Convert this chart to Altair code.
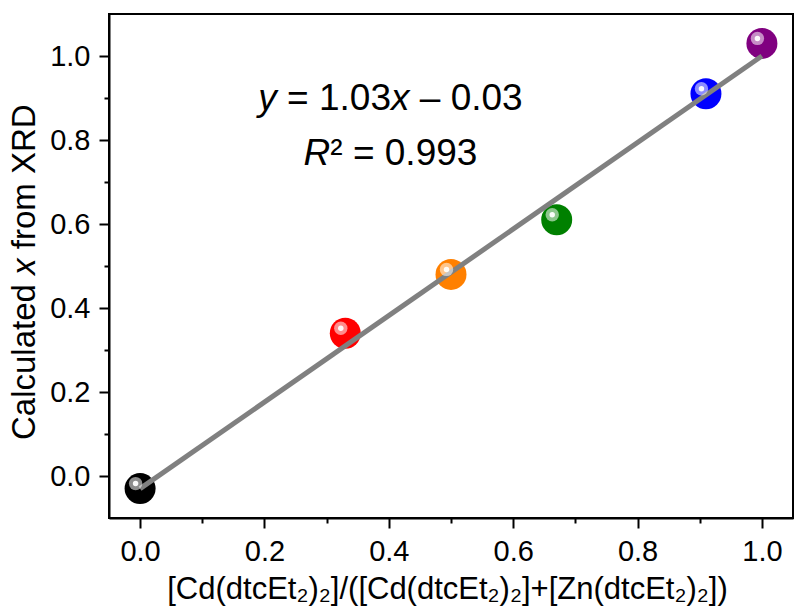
import altair as alt
import pandas as pd

# ---- data ----
samples = ["S1", "S2", "S3", "S4", "S5", "S6"]
ratio = [0.0, 0.33, 0.50, 0.67, 0.91, 1.00]          # [Cd]/([Cd]+[Zn])
calc_x = [-0.03, 0.34, 0.48, 0.61, 0.91, 1.03]       # calculated x from XRD
point_colors = ["#000000", "#ff0000", "#ff8000", "#008000", "#0000ff", "#800080"]

slope = 1.03
intercept = -0.03
r_squared = 0.993
fit_x = [0.0, 1.0]

tick_values = [0.0, 0.1, 0.2, 0.3, 0.4, 0.5, 0.6, 0.7, 0.8, 0.9, 1.0]
x_domain = [-0.05, 1.05]
y_domain = [-0.1, 1.1]

x_title = "[Cd(dtcEt\u2082)\u2082]/([Cd(dtcEt\u2082)\u2082]+[Zn(dtcEt\u2082)\u2082])"

FONT = "Liberation Sans"
W, H = 684, 504

pts = pd.DataFrame({"sample": samples, "ratio": ratio, "calc": calc_x})
fit = pd.DataFrame({"ratio": fit_x, "calc": [slope * v + intercept for v in fit_x]})

major_test = "round(datum.value*10) % 2 == 0"
label_expr = f"{major_test} ? format(datum.value, '.1f') : ''"


def make_axis(pad):
    return alt.Axis(
        values=tick_values,
        labelExpr=label_expr,
        tickSize={"condition": {"test": major_test, "value": 10}, "value": 5},
        labelPadding=pad,
        title=None,
        grid=False,
    )


xenc = alt.X("ratio:Q", scale=alt.Scale(domain=x_domain, nice=False, zero=False), axis=make_axis(9))
yenc = alt.Y("calc:Q", scale=alt.Scale(domain=y_domain, nice=False, zero=False), axis=make_axis(9))

base = alt.Chart(pts)

balls = base.mark_point(filled=True, shape="circle", size=960, opacity=1).encode(
    x=xenc, y=yenc,
    color=alt.Color("sample:N", scale=alt.Scale(domain=samples, range=point_colors), legend=None),
)

line = alt.Chart(fit).mark_line(color="#808080", strokeWidth=5).encode(x="ratio:Q", y="calc:Q")

ring = base.mark_point(filled=True, shape="circle", size=180, color="white", opacity=0.55,
                       xOffset=-4.5, yOffset=-5).encode(x="ratio:Q", y="calc:Q")
core = base.mark_point(filled=True, shape="circle", size=30, color="white", opacity=0.95,
                       xOffset=-4.5, yOffset=-5).encode(x="ratio:Q", y="calc:Q")


def label(txt, x, y, size, style="normal", angle=0, align="left"):
    return alt.Chart(pd.DataFrame({"t": [txt]})).mark_text(
        align=align, baseline="alphabetic", fontSize=size, fontStyle=style,
        font=FONT, angle=angle, color="black"
    ).encode(x=alt.value(x), y=alt.value(y), text="t:N")


eq_size = 37
texts = [
    # equation line  (absolute x minus 109, absolute y minus 14)
    label("y", 258.3 - 109, 110 - 14, eq_size, "italic"),
    label(f"= {slope:.2f}", 287.1 - 109, 110 - 14, eq_size),
    label("x", 391.0 - 109, 110 - 14, eq_size, "italic"),
    label(f"\u2013 {abs(intercept):.2f}", 419.8 - 109, 110 - 14, eq_size),
    # R^2 line
    label("R", 303.6 - 109, 165 - 14, eq_size, "italic"),
    label(f"\u00b2 = {r_squared:.3f}", 330.3 - 109, 165 - 14, eq_size),
    # y-axis title pieces (rotated)
    label("Calculated", 35 - 109, 440 - 14, 33, angle=270),
    label("x", 35 - 109, 274.9 - 14, 33, "italic", angle=270),
    label("from XRD", 35 - 109, 249.2 - 14, 33, angle=270),
    # x-axis title
    label(x_title, 338.5, 599 - 14, 31, align="center"),
]

chart = alt.layer(balls, line, ring, core, *texts).properties(
    width=W, height=H,
    autosize=alt.AutoSizeParams(type="none"),
    padding={"left": 109, "top": 14, "right": 2, "bottom": 92},
    background="white",
).configure_view(
    stroke="black", strokeWidth=2
).configure_axis(
    domainColor="black", domainWidth=2, tickColor="black", tickWidth=2,
    labelFont=FONT, labelFontSize=29, labelColor="black",
)

chart.save("out.html", embed_options={"renderer": "svg", "actions": False})
